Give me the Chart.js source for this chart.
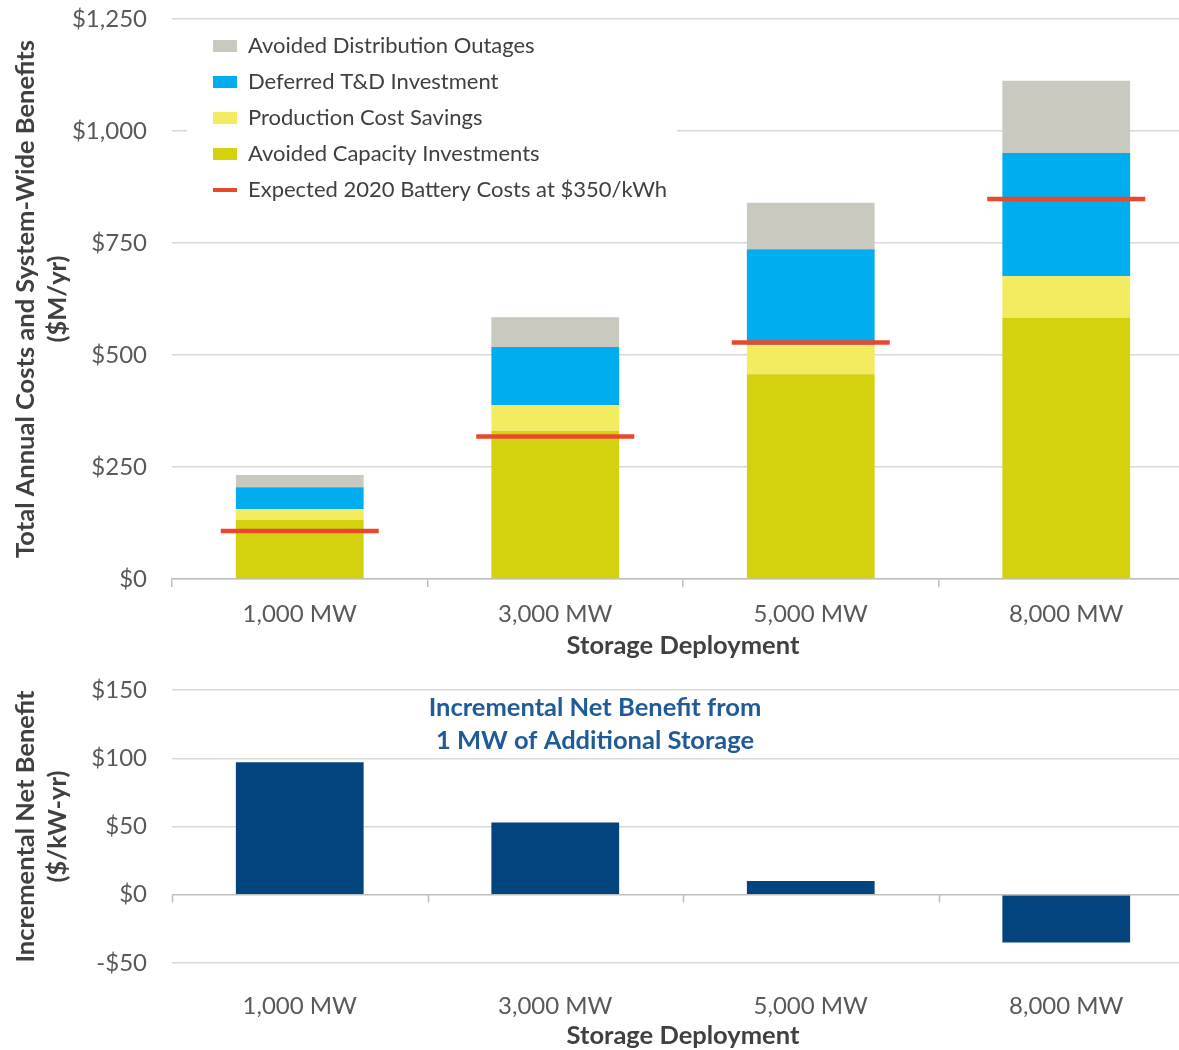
<!DOCTYPE html>
<html>
<head>
<meta charset="utf-8">
<title>Storage deployment benefits</title>
<script src="https://cdn.jsdelivr.net/npm/chart.js@4/dist/chart.umd.min.js"></script>
<style>
  html, body { margin: 0; padding: 0; background: #fff; overflow: hidden; }
  .panel { position: absolute; left: 0; width: 1200px; }
  #topPanel { top: 0; height: 660px; }
  #bottomPanel { top: 660px; height: 390px; }
</style>
</head>
<body>
<div class="panel" id="topPanel"><canvas id="benefitsChart"></canvas></div>
<div class="panel" id="bottomPanel"><canvas id="netChart"></canvas></div>
<script>
  // chart values
  const categories = ["1,000 MW", "3,000 MW", "5,000 MW", "8,000 MW"];
  const capacityInvestments = [132, 331, 457, 583];
  const productionSavings = [24, 57, 66, 93];
  const tdInvestment = [49, 130, 213, 275];
  const distributionOutages = [27, 66, 104, 161];
  const batteryCosts = [107, 318, 528, 848];
  const netBenefit = [97, 53, 10, -35];

  const topTicks = [0, 250, 500, 750, 1000, 1250];
  const bottomTicks = [-50, 0, 50, 100, 150];

  const FONT = "Lato";
  const TICK_COLOR = "#595959";
  const TITLE_COLOR = "#404040";
  const GRID = "#D9D9D9";
  const AXIS = "#BFBFBF";
  const tickFont = { family: FONT, size: 24 };
  const titleFont = { family: FONT, size: 25.5, weight: "bold", lineHeight: 1.1 };
  const yTitleFont = { family: FONT, size: 25.5, weight: "bold", lineHeight: 1.25 };

  const money = (v) => (v < 0 ? "-$" : "$") + Math.abs(v).toLocaleString("en-US");

  // fixed axis box so the plot lands where the original's does
  const fixYAxis = (scale) => {
    scale.width = 172;
    scale.paddingTop = 13;
    scale.paddingBottom = 13;
  };

  // legend sits inside the plot, nudged in, on a white card above the grid
  const legendCard = {
    id: "legendCard",
    afterLayout(chart) {
      const lg = chart.legend;
      const dy = chart.chartArea.top + 2 - lg.top;
      lg.left += 27;
      lg.right += 27;
      lg.top += dy;
      lg.bottom += dy;
    },
    afterDatasetsDraw(chart) {
      const { ctx, chartArea } = chart;
      ctx.save();
      ctx.fillStyle = "#ffffff";
      ctx.fillRect(chart.legend.left - 12, chartArea.top + 10, 490, 182);
      ctx.restore();
      chart.legend.draw();
    },
  };

  new Chart(document.getElementById("benefitsChart"), {
    data: {
      labels: categories,
      datasets: [
        {
          type: "line",
          label: "Expected 2020 Battery Costs at $350/kWh",
          data: batteryCosts,
          stack: "cost",
          showLine: false,
          pointStyle: "line",
          pointRadius: 79,
          pointHoverRadius: 79,
          borderColor: "#E8482B",
          backgroundColor: "#E8482B",
          pointBorderWidth: 4.5,
        },
        { type: "bar", label: "Avoided Capacity Investments", data: capacityInvestments, backgroundColor: "#D4D20F" },
        { type: "bar", label: "Production Cost Savings", data: productionSavings, backgroundColor: "#F4EC60" },
        { type: "bar", label: "Deferred T&D Investment", data: tdInvestment, backgroundColor: "#00AEEF" },
        { type: "bar", label: "Avoided Distribution Outages", data: distributionOutages, backgroundColor: "#C9C9C0" },
      ],
    },
    options: {
      responsive: true,
      maintainAspectRatio: false,
      animation: false,
      datasets: { bar: { categoryPercentage: 1, barPercentage: 0.5, stack: "benefits" } },
      layout: { autoPadding: false, padding: { top: 19, right: 6, left: 0, bottom: 0 } },
      plugins: {
        tooltip: { enabled: false },
        legend: {
          position: "chartArea",
          align: "start",
          reverse: true,
          labels: {
            usePointStyle: true,
            pointStyleWidth: 24,
            boxHeight: 12,
            padding: 14,
            color: TITLE_COLOR,
            font: { family: FONT, size: 22 },
            generateLabels(chart) {
              return chart.data.datasets.map((ds, i) => ({
                text: ds.label,
                datasetIndex: i,
                fillStyle: ds.backgroundColor,
                strokeStyle: ds.borderColor || ds.backgroundColor,
                lineWidth: ds.type === "line" ? 4 : 0,
                pointStyle: ds.type === "line" ? "line" : "rect",
                fontColor: TITLE_COLOR,
                hidden: false,
              }));
            },
          },
        },
      },
      scales: {
        x: {
          stacked: true,
          grid: { display: true, drawOnChartArea: false, drawTicks: true, tickLength: 8, color: AXIS, lineWidth: 1.5 },
          border: { display: true, color: AXIS, width: 1.5 },
          ticks: { color: TICK_COLOR, padding: 13, font: tickFont },
          title: {
            display: true,
            text: "Storage Deployment",
            color: TITLE_COLOR,
            padding: { top: 0, bottom: 0 },
            font: titleFont,
          },
          afterFit: (scale) => { scale.height = 81; },
        },
        y: {
          stacked: true,
          min: topTicks[0],
          max: topTicks[topTicks.length - 1],
          afterBuildTicks: (scale) => { scale.ticks = topTicks.map((v) => ({ value: v })); },
          grid: { color: GRID, lineWidth: 1.5, drawTicks: false },
          border: { display: false },
          ticks: { color: TICK_COLOR, padding: 25, font: tickFont, callback: money },
          title: {
            display: true,
            text: ["Total Annual Costs and System-Wide Benefits", "($M/yr)"],
            color: TITLE_COLOR,
            padding: { top: 10, bottom: 0 },
            font: yTitleFont,
          },
          afterFit: fixYAxis,
        },
      },
    },
    plugins: [legendCard],
  });

  // small tick marks hanging off the zero line, and the blue caption
  const zeroTicks = {
    id: "zeroTicks",
    afterDatasetsDraw(chart) {
      const { ctx, scales: { x, y } } = chart;
      const y0 = y.getPixelForValue(0);
      const step = x.width / categories.length;
      ctx.save();
      ctx.strokeStyle = AXIS;
      ctx.lineWidth = 1.5;
      for (let i = 0; i <= categories.length; i++) {
        const px = Math.round(x.left + i * step) + 0.5;
        ctx.beginPath();
        ctx.moveTo(px, y0);
        ctx.lineTo(px, y0 + 8);
        ctx.stroke();
      }
      ctx.restore();
    },
    afterDraw(chart) {
      const { ctx, chartArea } = chart;
      ctx.save();
      ctx.fillStyle = "#1F5B98";
      ctx.font = `bold 25.5px ${FONT}`;
      ctx.textAlign = "center";
      ctx.textBaseline = "middle";
      const cx = chartArea.left + 423;
      ctx.fillText("Incremental Net Benefit from", cx, chartArea.top + 18);
      ctx.fillText("1 MW of Additional Storage", cx, chartArea.top + 51);
      ctx.restore();
    },
  };

  new Chart(document.getElementById("netChart"), {
    type: "bar",
    data: {
      labels: categories,
      datasets: [
        { label: "Incremental Net Benefit", data: netBenefit, backgroundColor: "#03447E" },
      ],
    },
    options: {
      responsive: true,
      maintainAspectRatio: false,
      animation: false,
      categoryPercentage: 1,
      barPercentage: 0.5,
      layout: { autoPadding: false, padding: { top: 30, right: 6, left: 0, bottom: 0 } },
      plugins: { legend: { display: false }, tooltip: { enabled: false } },
      scales: {
        x: {
          grid: { display: false },
          border: { display: false },
          ticks: { color: TICK_COLOR, padding: 21, font: tickFont },
          title: {
            display: true,
            text: "Storage Deployment",
            color: TITLE_COLOR,
            padding: { top: 0, bottom: 0 },
            font: titleFont,
          },
          afterFit: (scale) => { scale.height = 87; },
        },
        y: {
          min: bottomTicks[0],
          max: bottomTicks[bottomTicks.length - 1],
          afterBuildTicks: (scale) => { scale.ticks = bottomTicks.map((v) => ({ value: v })); },
          grid: {
            drawTicks: false,
            lineWidth: 1.5,
            color: (c) => (c.tick && c.tick.value === 0 ? AXIS : GRID),
          },
          border: { display: false },
          ticks: { color: TICK_COLOR, padding: 25, font: tickFont, callback: money },
          title: {
            display: true,
            text: ["Incremental Net Benefit", "($/kW-yr)"],
            color: TITLE_COLOR,
            padding: { top: 10, bottom: 0 },
            font: yTitleFont,
          },
          afterFit: fixYAxis,
        },
      },
    },
    plugins: [zeroTicks],
  });
</script>
</body>
</html>
